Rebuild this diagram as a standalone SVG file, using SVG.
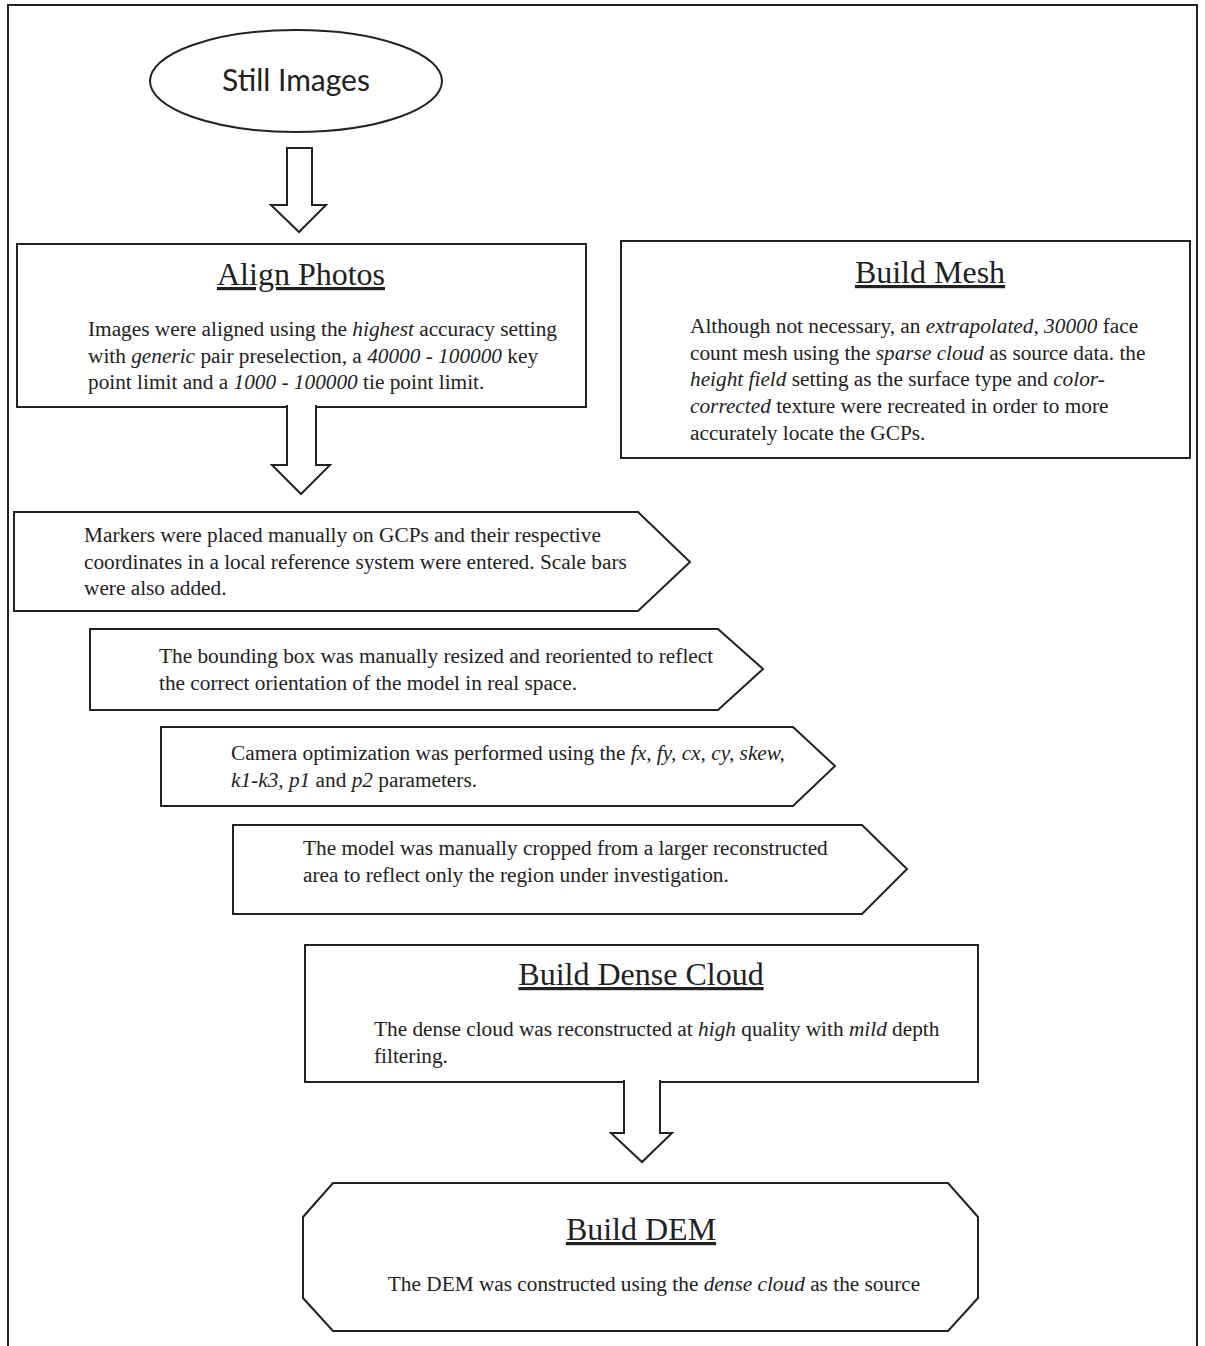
<svg xmlns="http://www.w3.org/2000/svg" width="1205" height="1346" viewBox="0 0 1205 1346">
<style>
.shape{fill:#fff;stroke:#222;stroke-width:2}
.frame{fill:none;stroke:#222;stroke-width:2}
.title{font-family:"Liberation Serif","Times New Roman",serif;font-size:32px;fill:#222;text-anchor:middle;text-decoration:underline}
.body{font-family:"Liberation Serif","Times New Roman",serif;font-size:21.3px;fill:#222}
.i{font-style:italic}
.sans{font-family:Lato,"Open Sans",sans-serif;font-size:30px;fill:#222;text-anchor:middle}
</style>
<rect width="1205" height="1346" fill="#fff"/>
<path class="frame" d="M8,1346 L8,5 L1197,5 L1197,1346"/>

<g id="still-images">
<ellipse class="shape" cx="296" cy="81" rx="146" ry="51"/>
<text class="sans" x="296" y="91">Still Images</text>
</g>

<g id="align-photos">
<rect class="shape" x="17" y="244" width="569" height="163"/>
<text class="title" x="301" y="285">Align Photos</text>
<text class="body" x="88" y="336">Images were aligned using the <tspan class="i">highest</tspan> accuracy setting</text>
<text class="body" x="88" y="363">with <tspan class="i">generic</tspan> pair preselection, a <tspan class="i">40000 - 100000</tspan> key</text>
<text class="body" x="88" y="389">point limit and a <tspan class="i">1000 - 100000</tspan> tie point limit.</text>
</g>

<g id="build-mesh">
<rect class="shape" x="621" y="241" width="569" height="217"/>
<text class="title" x="930" y="283">Build Mesh</text>
<text class="body" x="690" y="333">Although not necessary, an <tspan class="i">extrapolated,</tspan>  <tspan class="i">30000</tspan> face</text>
<text class="body" x="690" y="360">count mesh using the <tspan class="i">sparse cloud</tspan> as source data. the</text>
<text class="body" x="690" y="386"><tspan class="i">height field</tspan> setting as the surface type and <tspan class="i">color-</tspan></text>
<text class="body" x="690" y="413"><tspan class="i">corrected</tspan> texture were recreated in order to more</text>
<text class="body" x="690" y="440">accurately locate the GCPs.</text>
</g>

<g id="markers">
<polygon class="shape" points="14,512 638,512 690,562 638,611 14,611"/>
<text class="body" x="84" y="542">Markers were placed manually on GCPs and their respective</text>
<text class="body" x="84" y="569">coordinates in a local reference system were entered. Scale bars</text>
<text class="body" x="84" y="595">were also added.</text>
</g>

<g id="bounding-box">
<polygon class="shape" points="90,629 718,629 763,669 718,710 90,710"/>
<text class="body" x="159" y="663">The bounding box was manually resized and reoriented to reflect</text>
<text class="body" x="159" y="690">the correct orientation of the model in real space.</text>
</g>

<g id="camera-optimization">
<polygon class="shape" points="161,727 793,727 835,766 793,806 161,806"/>
<text class="body" x="231" y="760">Camera optimization was performed using the <tspan class="i">fx, fy, cx, cy, skew,</tspan></text>
<text class="body" x="231" y="787"><tspan class="i">k1-k3, p1</tspan> and <tspan class="i">p2</tspan> parameters.</text>
</g>

<g id="crop-model">
<polygon class="shape" points="233,825 862,825 907,869 862,914 233,914"/>
<text class="body" x="303" y="855">The model was manually cropped from a larger reconstructed</text>
<text class="body" x="303" y="882">area to reflect only the region under investigation.</text>
</g>

<g id="build-dense-cloud">
<rect class="shape" x="305" y="945" width="673" height="137"/>
<text class="title" x="641" y="985">Build Dense Cloud</text>
<text class="body" x="374" y="1036">The dense cloud was reconstructed at <tspan class="i">high</tspan> quality with <tspan class="i">mild</tspan> depth</text>
<text class="body" x="374" y="1063">filtering.</text>
</g>

<g id="build-dem">
<polygon class="shape" points="333,1183 948,1183 978,1217 978,1298 948,1331 333,1331 303,1298 303,1217"/>
<text class="title" x="641" y="1240">Build DEM</text>
<text class="body" x="654" y="1291" text-anchor="middle">The DEM was constructed using the <tspan class="i">dense cloud</tspan> as the source</text>
</g>

<g id="connectors">
<polygon class="shape" points="287,148 312,148 312,205 326,205 299,232 271,205 287,205"/>
<path class="shape" d="M287,405 L287,465 L272,465 L301,494 L330,465 L316,465 L316,405"/>
<path class="shape" d="M624,1080 L624,1133 L611,1133 L642,1162 L672,1133 L660,1133 L660,1080"/>
</g>
</svg>
